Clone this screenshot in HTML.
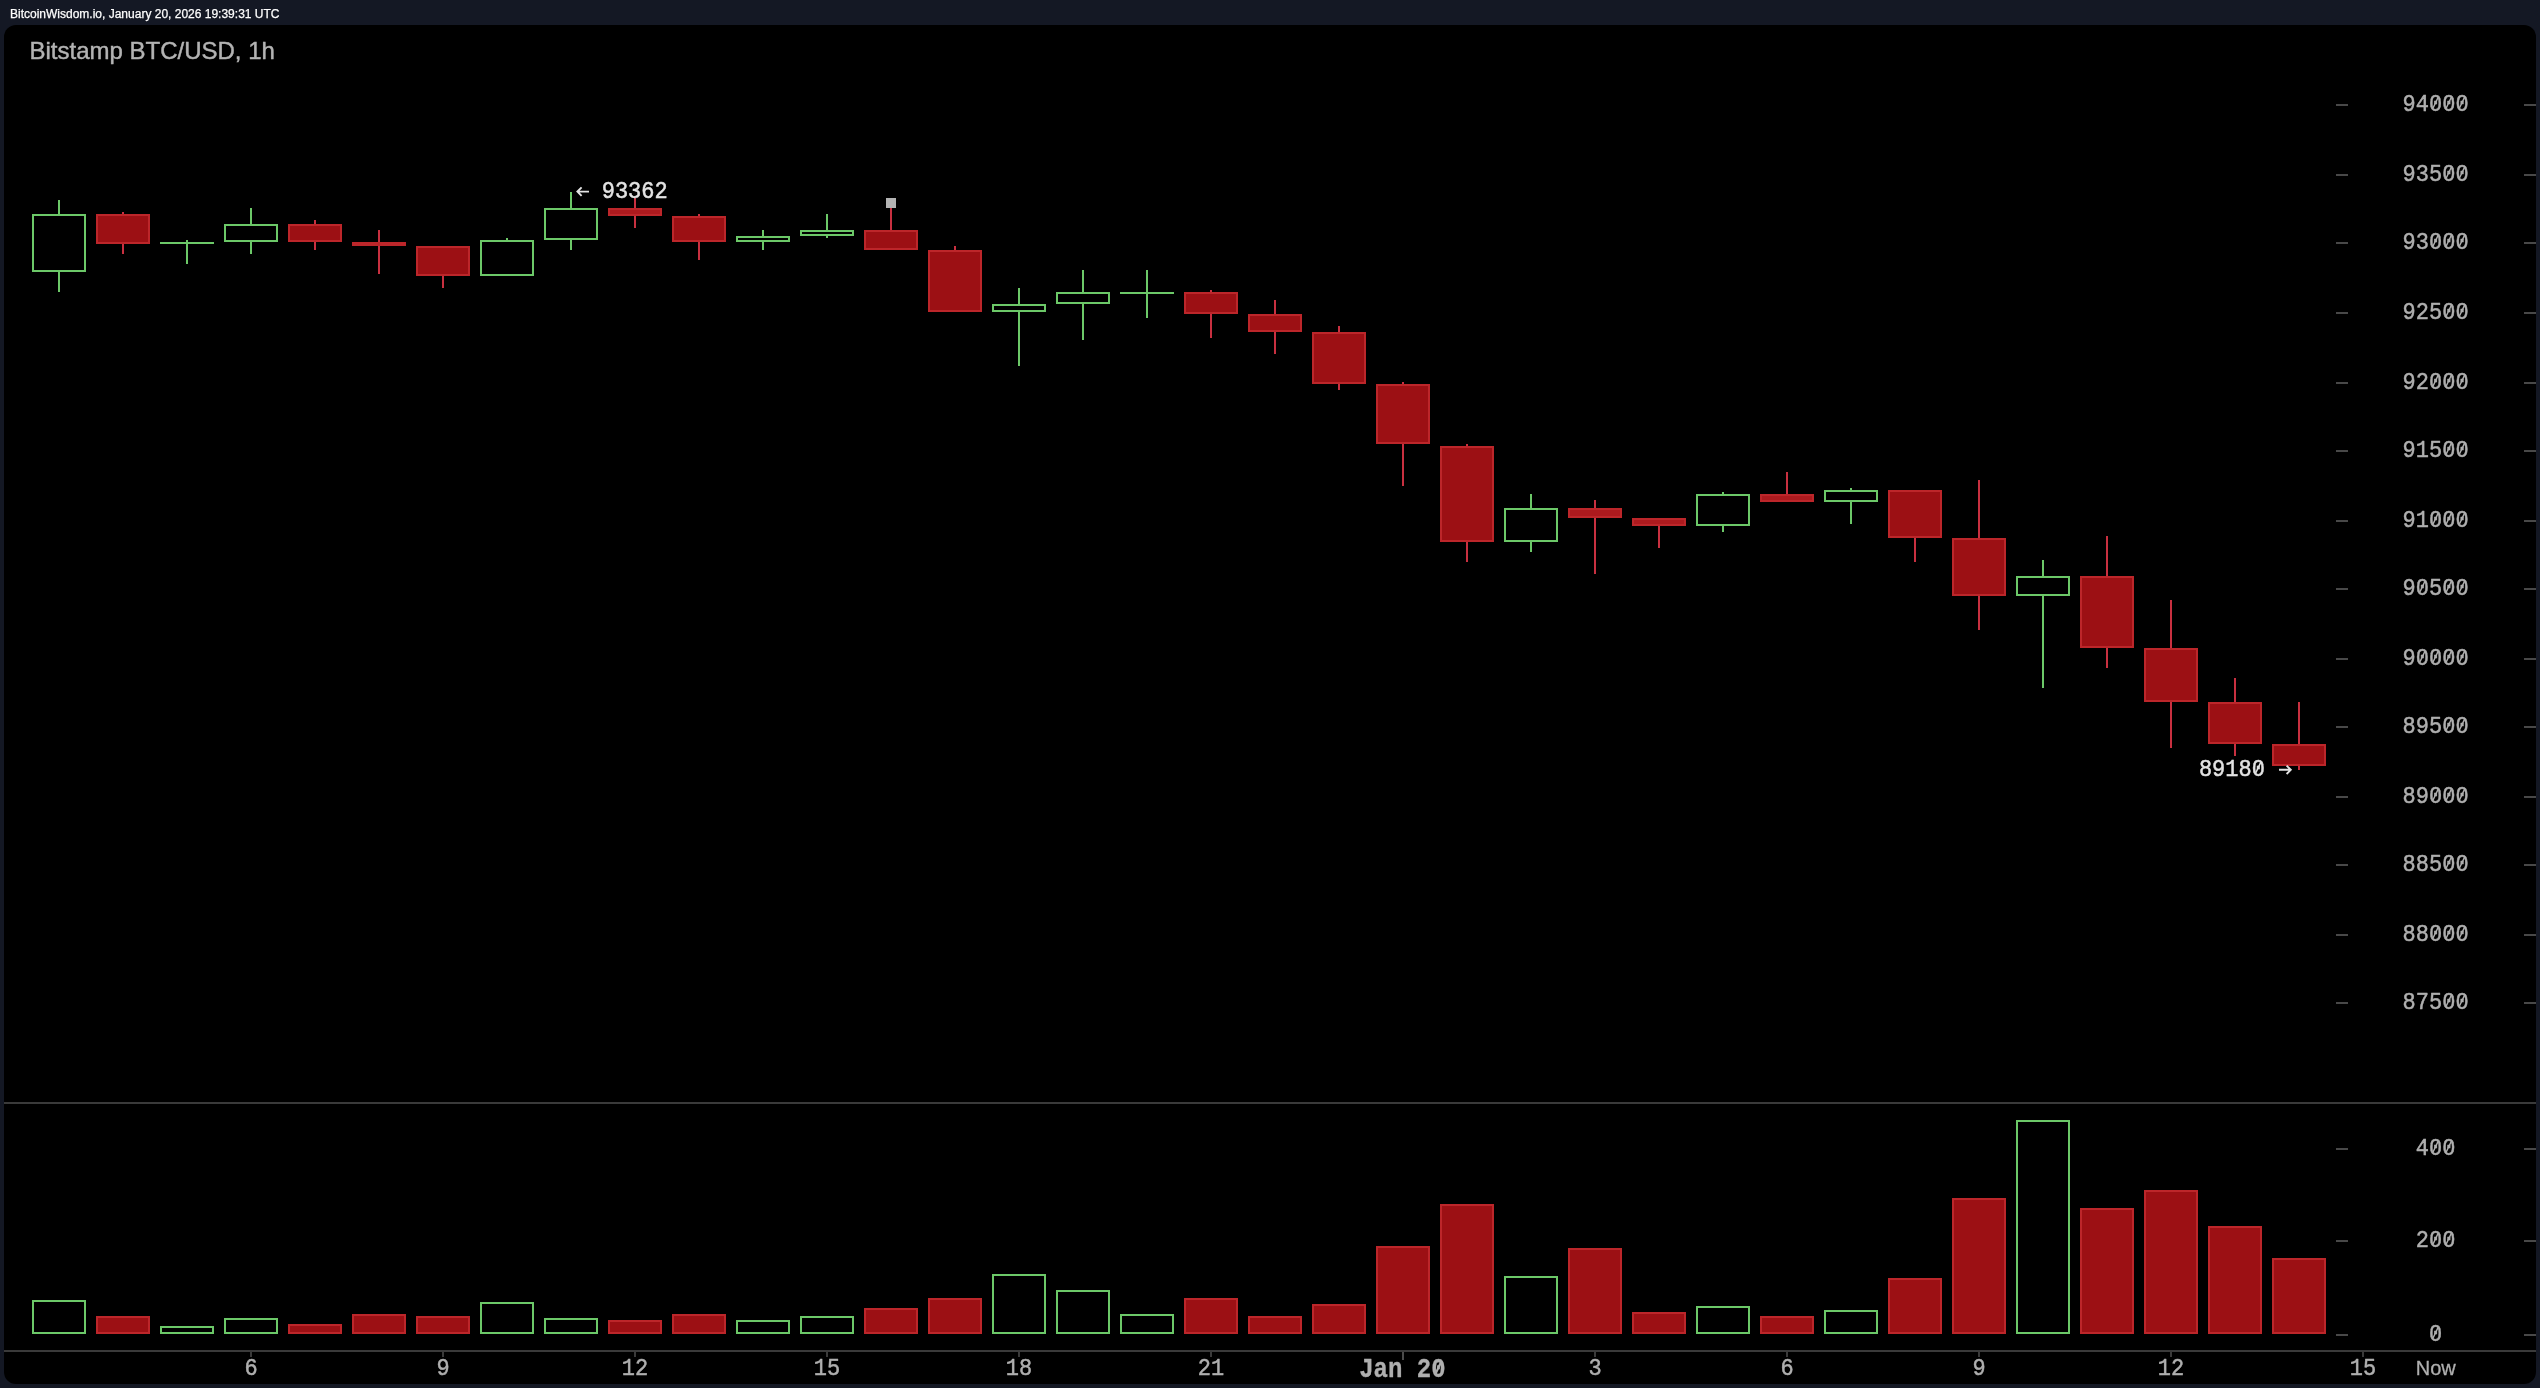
<!DOCTYPE html>
<html><head><meta charset="utf-8"><title>Bitstamp BTC/USD, 1h</title>
<style>
html,body{margin:0;padding:0;background:#141824;}
body{width:2540px;height:1388px;overflow:hidden;font-family:"Liberation Sans",sans-serif;}
svg{display:block;}
.t{opacity:0.999;}
</style></head><body>
<svg width="2540" height="1388" viewBox="0 0 2540 1388">
<rect x="0" y="0" width="2540" height="1388" fill="#141824"/>
<rect x="4" y="25" width="2532" height="1359" rx="12" ry="12" fill="#000" shape-rendering="geometricPrecision"/>
<g shape-rendering="crispEdges">
<rect x="4" y="1102" width="2532" height="2" fill="#3a3a3a"/>
<rect x="4" y="1350" width="2532" height="2" fill="#3a3a3a"/>
<rect x="2336" y="104" width="12" height="2" fill="#484848"/>
<rect x="2524" y="104" width="12" height="2" fill="#484848"/>
<rect x="2336" y="174" width="12" height="2" fill="#484848"/>
<rect x="2524" y="174" width="12" height="2" fill="#484848"/>
<rect x="2336" y="242" width="12" height="2" fill="#484848"/>
<rect x="2524" y="242" width="12" height="2" fill="#484848"/>
<rect x="2336" y="312" width="12" height="2" fill="#484848"/>
<rect x="2524" y="312" width="12" height="2" fill="#484848"/>
<rect x="2336" y="382" width="12" height="2" fill="#484848"/>
<rect x="2524" y="382" width="12" height="2" fill="#484848"/>
<rect x="2336" y="450" width="12" height="2" fill="#484848"/>
<rect x="2524" y="450" width="12" height="2" fill="#484848"/>
<rect x="2336" y="520" width="12" height="2" fill="#484848"/>
<rect x="2524" y="520" width="12" height="2" fill="#484848"/>
<rect x="2336" y="588" width="12" height="2" fill="#484848"/>
<rect x="2524" y="588" width="12" height="2" fill="#484848"/>
<rect x="2336" y="658" width="12" height="2" fill="#484848"/>
<rect x="2524" y="658" width="12" height="2" fill="#484848"/>
<rect x="2336" y="726" width="12" height="2" fill="#484848"/>
<rect x="2524" y="726" width="12" height="2" fill="#484848"/>
<rect x="2336" y="796" width="12" height="2" fill="#484848"/>
<rect x="2524" y="796" width="12" height="2" fill="#484848"/>
<rect x="2336" y="864" width="12" height="2" fill="#484848"/>
<rect x="2524" y="864" width="12" height="2" fill="#484848"/>
<rect x="2336" y="934" width="12" height="2" fill="#484848"/>
<rect x="2524" y="934" width="12" height="2" fill="#484848"/>
<rect x="2336" y="1002" width="12" height="2" fill="#484848"/>
<rect x="2524" y="1002" width="12" height="2" fill="#484848"/>
<rect x="2336" y="1148" width="12" height="2" fill="#484848"/>
<rect x="2524" y="1148" width="12" height="2" fill="#484848"/>
<rect x="2336" y="1240" width="12" height="2" fill="#484848"/>
<rect x="2524" y="1240" width="12" height="2" fill="#484848"/>
<rect x="2336" y="1334" width="12" height="2" fill="#484848"/>
<rect x="2524" y="1334" width="12" height="2" fill="#484848"/>
<rect x="250" y="1352" width="2" height="5" fill="#3a3a3a"/>
<rect x="442" y="1352" width="2" height="5" fill="#3a3a3a"/>
<rect x="634" y="1352" width="2" height="5" fill="#3a3a3a"/>
<rect x="826" y="1352" width="2" height="5" fill="#3a3a3a"/>
<rect x="1018" y="1352" width="2" height="5" fill="#3a3a3a"/>
<rect x="1210" y="1352" width="2" height="5" fill="#3a3a3a"/>
<rect x="1594" y="1352" width="2" height="5" fill="#3a3a3a"/>
<rect x="1786" y="1352" width="2" height="5" fill="#3a3a3a"/>
<rect x="1978" y="1352" width="2" height="5" fill="#3a3a3a"/>
<rect x="2170" y="1352" width="2" height="5" fill="#3a3a3a"/>
<rect x="2362" y="1352" width="2" height="5" fill="#3a3a3a"/>
<rect x="1402" y="1352" width="2" height="8" fill="#4b4b4b"/>
<rect x="58" y="200" width="2" height="92" fill="#6cc868"/>
<rect x="32" y="214" width="54" height="58" fill="#6cc868"/>
<rect x="34" y="216" width="50" height="54" fill="#000"/>
<rect x="122" y="212" width="2" height="42" fill="#c83040"/>
<rect x="96" y="214" width="54" height="30" fill="#bc262a"/>
<rect x="98" y="216" width="50" height="26" fill="#9c1014"/>
<rect x="186" y="240" width="2" height="24" fill="#6cc868"/>
<rect x="160" y="242" width="54" height="2" fill="#6cc868"/>
<rect x="250" y="208" width="2" height="46" fill="#6cc868"/>
<rect x="224" y="224" width="54" height="18" fill="#6cc868"/>
<rect x="226" y="226" width="50" height="14" fill="#000"/>
<rect x="314" y="220" width="2" height="30" fill="#c83040"/>
<rect x="288" y="224" width="54" height="18" fill="#bc262a"/>
<rect x="290" y="226" width="50" height="14" fill="#9c1014"/>
<rect x="378" y="230" width="2" height="44" fill="#c83040"/>
<rect x="352" y="242" width="54" height="4" fill="#bc262a"/>
<rect x="442" y="246" width="2" height="42" fill="#c83040"/>
<rect x="416" y="246" width="54" height="30" fill="#bc262a"/>
<rect x="418" y="248" width="50" height="26" fill="#9c1014"/>
<rect x="506" y="238" width="2" height="38" fill="#6cc868"/>
<rect x="480" y="240" width="54" height="36" fill="#6cc868"/>
<rect x="482" y="242" width="50" height="32" fill="#000"/>
<rect x="570" y="192" width="2" height="58" fill="#6cc868"/>
<rect x="544" y="208" width="54" height="32" fill="#6cc868"/>
<rect x="546" y="210" width="50" height="28" fill="#000"/>
<rect x="634" y="198" width="2" height="30" fill="#c83040"/>
<rect x="608" y="208" width="54" height="8" fill="#bc262a"/>
<rect x="610" y="210" width="50" height="4" fill="#ac1a1e"/>
<rect x="698" y="214" width="2" height="46" fill="#c83040"/>
<rect x="672" y="216" width="54" height="26" fill="#bc262a"/>
<rect x="674" y="218" width="50" height="22" fill="#9c1014"/>
<rect x="762" y="230" width="2" height="20" fill="#6cc868"/>
<rect x="736" y="236" width="54" height="6" fill="#6cc868"/>
<rect x="738" y="238" width="50" height="2" fill="#000"/>
<rect x="826" y="214" width="2" height="24" fill="#6cc868"/>
<rect x="800" y="230" width="54" height="6" fill="#6cc868"/>
<rect x="802" y="232" width="50" height="2" fill="#000"/>
<rect x="890" y="208" width="2" height="42" fill="#c83040"/>
<rect x="864" y="230" width="54" height="20" fill="#bc262a"/>
<rect x="866" y="232" width="50" height="16" fill="#9c1014"/>
<rect x="954" y="246" width="2" height="66" fill="#c83040"/>
<rect x="928" y="250" width="54" height="62" fill="#bc262a"/>
<rect x="930" y="252" width="50" height="58" fill="#9c1014"/>
<rect x="1018" y="288" width="2" height="78" fill="#6cc868"/>
<rect x="992" y="304" width="54" height="8" fill="#6cc868"/>
<rect x="994" y="306" width="50" height="4" fill="#000"/>
<rect x="1082" y="270" width="2" height="70" fill="#6cc868"/>
<rect x="1056" y="292" width="54" height="12" fill="#6cc868"/>
<rect x="1058" y="294" width="50" height="8" fill="#000"/>
<rect x="1146" y="270" width="2" height="48" fill="#6cc868"/>
<rect x="1120" y="292" width="54" height="2" fill="#6cc868"/>
<rect x="1210" y="290" width="2" height="48" fill="#c83040"/>
<rect x="1184" y="292" width="54" height="22" fill="#bc262a"/>
<rect x="1186" y="294" width="50" height="18" fill="#9c1014"/>
<rect x="1274" y="300" width="2" height="54" fill="#c83040"/>
<rect x="1248" y="314" width="54" height="18" fill="#bc262a"/>
<rect x="1250" y="316" width="50" height="14" fill="#9c1014"/>
<rect x="1338" y="326" width="2" height="64" fill="#c83040"/>
<rect x="1312" y="332" width="54" height="52" fill="#bc262a"/>
<rect x="1314" y="334" width="50" height="48" fill="#9c1014"/>
<rect x="1402" y="382" width="2" height="104" fill="#c83040"/>
<rect x="1376" y="384" width="54" height="60" fill="#bc262a"/>
<rect x="1378" y="386" width="50" height="56" fill="#9c1014"/>
<rect x="1466" y="444" width="2" height="118" fill="#c83040"/>
<rect x="1440" y="446" width="54" height="96" fill="#bc262a"/>
<rect x="1442" y="448" width="50" height="92" fill="#9c1014"/>
<rect x="1530" y="494" width="2" height="58" fill="#6cc868"/>
<rect x="1504" y="508" width="54" height="34" fill="#6cc868"/>
<rect x="1506" y="510" width="50" height="30" fill="#000"/>
<rect x="1594" y="500" width="2" height="74" fill="#c83040"/>
<rect x="1568" y="508" width="54" height="10" fill="#bc262a"/>
<rect x="1570" y="510" width="50" height="6" fill="#ac1a1e"/>
<rect x="1658" y="518" width="2" height="30" fill="#c83040"/>
<rect x="1632" y="518" width="54" height="8" fill="#bc262a"/>
<rect x="1634" y="520" width="50" height="4" fill="#ac1a1e"/>
<rect x="1722" y="492" width="2" height="40" fill="#6cc868"/>
<rect x="1696" y="494" width="54" height="32" fill="#6cc868"/>
<rect x="1698" y="496" width="50" height="28" fill="#000"/>
<rect x="1786" y="472" width="2" height="30" fill="#c83040"/>
<rect x="1760" y="494" width="54" height="8" fill="#bc262a"/>
<rect x="1762" y="496" width="50" height="4" fill="#ac1a1e"/>
<rect x="1850" y="488" width="2" height="36" fill="#6cc868"/>
<rect x="1824" y="490" width="54" height="12" fill="#6cc868"/>
<rect x="1826" y="492" width="50" height="8" fill="#000"/>
<rect x="1914" y="490" width="2" height="72" fill="#c83040"/>
<rect x="1888" y="490" width="54" height="48" fill="#bc262a"/>
<rect x="1890" y="492" width="50" height="44" fill="#9c1014"/>
<rect x="1978" y="480" width="2" height="150" fill="#c83040"/>
<rect x="1952" y="538" width="54" height="58" fill="#bc262a"/>
<rect x="1954" y="540" width="50" height="54" fill="#9c1014"/>
<rect x="2042" y="560" width="2" height="128" fill="#6cc868"/>
<rect x="2016" y="576" width="54" height="20" fill="#6cc868"/>
<rect x="2018" y="578" width="50" height="16" fill="#000"/>
<rect x="2106" y="536" width="2" height="132" fill="#c83040"/>
<rect x="2080" y="576" width="54" height="72" fill="#bc262a"/>
<rect x="2082" y="578" width="50" height="68" fill="#9c1014"/>
<rect x="2170" y="600" width="2" height="148" fill="#c83040"/>
<rect x="2144" y="648" width="54" height="54" fill="#bc262a"/>
<rect x="2146" y="650" width="50" height="50" fill="#9c1014"/>
<rect x="2234" y="678" width="2" height="78" fill="#c83040"/>
<rect x="2208" y="702" width="54" height="42" fill="#bc262a"/>
<rect x="2210" y="704" width="50" height="38" fill="#9c1014"/>
<rect x="2298" y="702" width="2" height="68" fill="#c83040"/>
<rect x="2272" y="744" width="54" height="22" fill="#bc262a"/>
<rect x="2274" y="746" width="50" height="18" fill="#9c1014"/>
<rect x="886" y="198" width="10" height="10" fill="#b4b4b4"/>
<rect x="32" y="1300" width="54" height="34" fill="#6cc868"/>
<rect x="34" y="1302" width="50" height="30" fill="#000"/>
<rect x="96" y="1316" width="54" height="18" fill="#bc262a"/>
<rect x="98" y="1318" width="50" height="14" fill="#9c1014"/>
<rect x="160" y="1326" width="54" height="8" fill="#6cc868"/>
<rect x="162" y="1328" width="50" height="4" fill="#000"/>
<rect x="224" y="1318" width="54" height="16" fill="#6cc868"/>
<rect x="226" y="1320" width="50" height="12" fill="#000"/>
<rect x="288" y="1324" width="54" height="10" fill="#bc262a"/>
<rect x="290" y="1326" width="50" height="6" fill="#9c1014"/>
<rect x="352" y="1314" width="54" height="20" fill="#bc262a"/>
<rect x="354" y="1316" width="50" height="16" fill="#9c1014"/>
<rect x="416" y="1316" width="54" height="18" fill="#bc262a"/>
<rect x="418" y="1318" width="50" height="14" fill="#9c1014"/>
<rect x="480" y="1302" width="54" height="32" fill="#6cc868"/>
<rect x="482" y="1304" width="50" height="28" fill="#000"/>
<rect x="544" y="1318" width="54" height="16" fill="#6cc868"/>
<rect x="546" y="1320" width="50" height="12" fill="#000"/>
<rect x="608" y="1320" width="54" height="14" fill="#bc262a"/>
<rect x="610" y="1322" width="50" height="10" fill="#9c1014"/>
<rect x="672" y="1314" width="54" height="20" fill="#bc262a"/>
<rect x="674" y="1316" width="50" height="16" fill="#9c1014"/>
<rect x="736" y="1320" width="54" height="14" fill="#6cc868"/>
<rect x="738" y="1322" width="50" height="10" fill="#000"/>
<rect x="800" y="1316" width="54" height="18" fill="#6cc868"/>
<rect x="802" y="1318" width="50" height="14" fill="#000"/>
<rect x="864" y="1308" width="54" height="26" fill="#bc262a"/>
<rect x="866" y="1310" width="50" height="22" fill="#9c1014"/>
<rect x="928" y="1298" width="54" height="36" fill="#bc262a"/>
<rect x="930" y="1300" width="50" height="32" fill="#9c1014"/>
<rect x="992" y="1274" width="54" height="60" fill="#6cc868"/>
<rect x="994" y="1276" width="50" height="56" fill="#000"/>
<rect x="1056" y="1290" width="54" height="44" fill="#6cc868"/>
<rect x="1058" y="1292" width="50" height="40" fill="#000"/>
<rect x="1120" y="1314" width="54" height="20" fill="#6cc868"/>
<rect x="1122" y="1316" width="50" height="16" fill="#000"/>
<rect x="1184" y="1298" width="54" height="36" fill="#bc262a"/>
<rect x="1186" y="1300" width="50" height="32" fill="#9c1014"/>
<rect x="1248" y="1316" width="54" height="18" fill="#bc262a"/>
<rect x="1250" y="1318" width="50" height="14" fill="#9c1014"/>
<rect x="1312" y="1304" width="54" height="30" fill="#bc262a"/>
<rect x="1314" y="1306" width="50" height="26" fill="#9c1014"/>
<rect x="1376" y="1246" width="54" height="88" fill="#bc262a"/>
<rect x="1378" y="1248" width="50" height="84" fill="#9c1014"/>
<rect x="1440" y="1204" width="54" height="130" fill="#bc262a"/>
<rect x="1442" y="1206" width="50" height="126" fill="#9c1014"/>
<rect x="1504" y="1276" width="54" height="58" fill="#6cc868"/>
<rect x="1506" y="1278" width="50" height="54" fill="#000"/>
<rect x="1568" y="1248" width="54" height="86" fill="#bc262a"/>
<rect x="1570" y="1250" width="50" height="82" fill="#9c1014"/>
<rect x="1632" y="1312" width="54" height="22" fill="#bc262a"/>
<rect x="1634" y="1314" width="50" height="18" fill="#9c1014"/>
<rect x="1696" y="1306" width="54" height="28" fill="#6cc868"/>
<rect x="1698" y="1308" width="50" height="24" fill="#000"/>
<rect x="1760" y="1316" width="54" height="18" fill="#bc262a"/>
<rect x="1762" y="1318" width="50" height="14" fill="#9c1014"/>
<rect x="1824" y="1310" width="54" height="24" fill="#6cc868"/>
<rect x="1826" y="1312" width="50" height="20" fill="#000"/>
<rect x="1888" y="1278" width="54" height="56" fill="#bc262a"/>
<rect x="1890" y="1280" width="50" height="52" fill="#9c1014"/>
<rect x="1952" y="1198" width="54" height="136" fill="#bc262a"/>
<rect x="1954" y="1200" width="50" height="132" fill="#9c1014"/>
<rect x="2016" y="1120" width="54" height="214" fill="#6cc868"/>
<rect x="2018" y="1122" width="50" height="210" fill="#000"/>
<rect x="2080" y="1208" width="54" height="126" fill="#bc262a"/>
<rect x="2082" y="1210" width="50" height="122" fill="#9c1014"/>
<rect x="2144" y="1190" width="54" height="144" fill="#bc262a"/>
<rect x="2146" y="1192" width="50" height="140" fill="#9c1014"/>
<rect x="2208" y="1226" width="54" height="108" fill="#bc262a"/>
<rect x="2210" y="1228" width="50" height="104" fill="#9c1014"/>
<rect x="2272" y="1258" width="54" height="76" fill="#bc262a"/>
<rect x="2274" y="1260" width="50" height="72" fill="#9c1014"/>
</g>
<g class="t">
<text transform="translate(2435.6,110.7) scale(1,1.12)" text-anchor="middle" font-family="'Liberation Mono', monospace" font-size="22" fill="#b0b0b0" stroke="#b0b0b0" stroke-width="0.45" stroke-linejoin="round" xml:space="preserve">94000</text>
<text transform="translate(2435.6,180.7) scale(1,1.12)" text-anchor="middle" font-family="'Liberation Mono', monospace" font-size="22" fill="#b0b0b0" stroke="#b0b0b0" stroke-width="0.45" stroke-linejoin="round" xml:space="preserve">93500</text>
<text transform="translate(2435.6,248.7) scale(1,1.12)" text-anchor="middle" font-family="'Liberation Mono', monospace" font-size="22" fill="#b0b0b0" stroke="#b0b0b0" stroke-width="0.45" stroke-linejoin="round" xml:space="preserve">93000</text>
<text transform="translate(2435.6,318.7) scale(1,1.12)" text-anchor="middle" font-family="'Liberation Mono', monospace" font-size="22" fill="#b0b0b0" stroke="#b0b0b0" stroke-width="0.45" stroke-linejoin="round" xml:space="preserve">92500</text>
<text transform="translate(2435.6,388.7) scale(1,1.12)" text-anchor="middle" font-family="'Liberation Mono', monospace" font-size="22" fill="#b0b0b0" stroke="#b0b0b0" stroke-width="0.45" stroke-linejoin="round" xml:space="preserve">92000</text>
<text transform="translate(2435.6,456.7) scale(1,1.12)" text-anchor="middle" font-family="'Liberation Mono', monospace" font-size="22" fill="#b0b0b0" stroke="#b0b0b0" stroke-width="0.45" stroke-linejoin="round" xml:space="preserve">91500</text>
<text transform="translate(2435.6,526.7) scale(1,1.12)" text-anchor="middle" font-family="'Liberation Mono', monospace" font-size="22" fill="#b0b0b0" stroke="#b0b0b0" stroke-width="0.45" stroke-linejoin="round" xml:space="preserve">91000</text>
<text transform="translate(2435.6,594.7) scale(1,1.12)" text-anchor="middle" font-family="'Liberation Mono', monospace" font-size="22" fill="#b0b0b0" stroke="#b0b0b0" stroke-width="0.45" stroke-linejoin="round" xml:space="preserve">90500</text>
<text transform="translate(2435.6,664.7) scale(1,1.12)" text-anchor="middle" font-family="'Liberation Mono', monospace" font-size="22" fill="#b0b0b0" stroke="#b0b0b0" stroke-width="0.45" stroke-linejoin="round" xml:space="preserve">90000</text>
<text transform="translate(2435.6,732.7) scale(1,1.12)" text-anchor="middle" font-family="'Liberation Mono', monospace" font-size="22" fill="#b0b0b0" stroke="#b0b0b0" stroke-width="0.45" stroke-linejoin="round" xml:space="preserve">89500</text>
<text transform="translate(2435.6,802.7) scale(1,1.12)" text-anchor="middle" font-family="'Liberation Mono', monospace" font-size="22" fill="#b0b0b0" stroke="#b0b0b0" stroke-width="0.45" stroke-linejoin="round" xml:space="preserve">89000</text>
<text transform="translate(2435.6,870.7) scale(1,1.12)" text-anchor="middle" font-family="'Liberation Mono', monospace" font-size="22" fill="#b0b0b0" stroke="#b0b0b0" stroke-width="0.45" stroke-linejoin="round" xml:space="preserve">88500</text>
<text transform="translate(2435.6,940.7) scale(1,1.12)" text-anchor="middle" font-family="'Liberation Mono', monospace" font-size="22" fill="#b0b0b0" stroke="#b0b0b0" stroke-width="0.45" stroke-linejoin="round" xml:space="preserve">88000</text>
<text transform="translate(2435.6,1008.7) scale(1,1.12)" text-anchor="middle" font-family="'Liberation Mono', monospace" font-size="22" fill="#b0b0b0" stroke="#b0b0b0" stroke-width="0.45" stroke-linejoin="round" xml:space="preserve">87500</text>
<text transform="translate(2435.6,1154.7) scale(1,1.12)" text-anchor="middle" font-family="'Liberation Mono', monospace" font-size="22" fill="#b0b0b0" stroke="#b0b0b0" stroke-width="0.45" stroke-linejoin="round" xml:space="preserve">400</text>
<text transform="translate(2435.6,1246.7) scale(1,1.12)" text-anchor="middle" font-family="'Liberation Mono', monospace" font-size="22" fill="#b0b0b0" stroke="#b0b0b0" stroke-width="0.45" stroke-linejoin="round" xml:space="preserve">200</text>
<text transform="translate(2435.6,1340.7) scale(1,1.12)" text-anchor="middle" font-family="'Liberation Mono', monospace" font-size="22" fill="#b0b0b0" stroke="#b0b0b0" stroke-width="0.45" stroke-linejoin="round" xml:space="preserve">0</text>
<text transform="translate(251,1375.2) scale(1,1.12)" text-anchor="middle" font-family="'Liberation Mono', monospace" font-size="22" fill="#b0b0b0" stroke="#b0b0b0" stroke-width="0.45" stroke-linejoin="round" xml:space="preserve">6</text>
<text transform="translate(443,1375.2) scale(1,1.12)" text-anchor="middle" font-family="'Liberation Mono', monospace" font-size="22" fill="#b0b0b0" stroke="#b0b0b0" stroke-width="0.45" stroke-linejoin="round" xml:space="preserve">9</text>
<text transform="translate(635,1375.2) scale(1,1.12)" text-anchor="middle" font-family="'Liberation Mono', monospace" font-size="22" fill="#b0b0b0" stroke="#b0b0b0" stroke-width="0.45" stroke-linejoin="round" xml:space="preserve">12</text>
<text transform="translate(827,1375.2) scale(1,1.12)" text-anchor="middle" font-family="'Liberation Mono', monospace" font-size="22" fill="#b0b0b0" stroke="#b0b0b0" stroke-width="0.45" stroke-linejoin="round" xml:space="preserve">15</text>
<text transform="translate(1019,1375.2) scale(1,1.12)" text-anchor="middle" font-family="'Liberation Mono', monospace" font-size="22" fill="#b0b0b0" stroke="#b0b0b0" stroke-width="0.45" stroke-linejoin="round" xml:space="preserve">18</text>
<text transform="translate(1211,1375.2) scale(1,1.12)" text-anchor="middle" font-family="'Liberation Mono', monospace" font-size="22" fill="#b0b0b0" stroke="#b0b0b0" stroke-width="0.45" stroke-linejoin="round" xml:space="preserve">21</text>
<text transform="translate(1595,1375.2) scale(1,1.12)" text-anchor="middle" font-family="'Liberation Mono', monospace" font-size="22" fill="#b0b0b0" stroke="#b0b0b0" stroke-width="0.45" stroke-linejoin="round" xml:space="preserve">3</text>
<text transform="translate(1787,1375.2) scale(1,1.12)" text-anchor="middle" font-family="'Liberation Mono', monospace" font-size="22" fill="#b0b0b0" stroke="#b0b0b0" stroke-width="0.45" stroke-linejoin="round" xml:space="preserve">6</text>
<text transform="translate(1979,1375.2) scale(1,1.12)" text-anchor="middle" font-family="'Liberation Mono', monospace" font-size="22" fill="#b0b0b0" stroke="#b0b0b0" stroke-width="0.45" stroke-linejoin="round" xml:space="preserve">9</text>
<text transform="translate(2171,1375.2) scale(1,1.12)" text-anchor="middle" font-family="'Liberation Mono', monospace" font-size="22" fill="#b0b0b0" stroke="#b0b0b0" stroke-width="0.45" stroke-linejoin="round" xml:space="preserve">12</text>
<text transform="translate(2363,1375.2) scale(1,1.12)" text-anchor="middle" font-family="'Liberation Mono', monospace" font-size="22" fill="#b0b0b0" stroke="#b0b0b0" stroke-width="0.45" stroke-linejoin="round" xml:space="preserve">15</text>
<text transform="translate(1402.4,1376.8) scale(1,1.15)" text-anchor="middle" font-family="'Liberation Mono', monospace" font-size="24" font-weight="bold" fill="#b0b0b0" stroke="#b0b0b0" stroke-width="0.3" stroke-linejoin="round" xml:space="preserve">Jan 20</text>
<text x="2435.7" y="1375" text-anchor="middle" font-family="'Liberation Sans', sans-serif" font-size="20" fill="#b0b0b0" stroke="#b0b0b0" stroke-width="0.3">Now</text>
<text x="10" y="18" text-anchor="start" font-family="'Liberation Sans', sans-serif" font-size="12" fill="#ffffff" stroke="#ffffff" stroke-width="0.25">BitcoinWisdom.io, January 20, 2026 19:39:31 UTC</text>
<text x="29.5" y="59.4" text-anchor="start" font-family="'Liberation Sans', sans-serif" font-size="24" fill="#b4b4b4" stroke="#b4b4b4" stroke-width="0.45">Bitstamp BTC/USD, 1h</text>
<text transform="translate(601.7,197.5) scale(1,1.12)" text-anchor="start" font-family="'Liberation Mono', monospace" font-size="22" fill="#e4e4e4" stroke="#e4e4e4" stroke-width="0.45" stroke-linejoin="round" xml:space="preserve">93362</text>
<text transform="translate(2264.9,775.6) scale(1,1.12)" text-anchor="end" font-family="'Liberation Mono', monospace" font-size="22" fill="#e4e4e4" stroke="#e4e4e4" stroke-width="0.45" stroke-linejoin="round" xml:space="preserve">89180</text>
<line x1="2433.29" y1="107.45" x2="2437.91" y2="97.71" stroke="#b0b0b0" stroke-width="1.5" stroke-linecap="round"/>
<line x1="2446.49" y1="107.45" x2="2451.11" y2="97.71" stroke="#b0b0b0" stroke-width="1.5" stroke-linecap="round"/>
<line x1="2459.69" y1="107.45" x2="2464.31" y2="97.71" stroke="#b0b0b0" stroke-width="1.5" stroke-linecap="round"/>
<line x1="2446.49" y1="177.45" x2="2451.11" y2="167.71" stroke="#b0b0b0" stroke-width="1.5" stroke-linecap="round"/>
<line x1="2459.69" y1="177.45" x2="2464.31" y2="167.71" stroke="#b0b0b0" stroke-width="1.5" stroke-linecap="round"/>
<line x1="2433.29" y1="245.45" x2="2437.91" y2="235.71" stroke="#b0b0b0" stroke-width="1.5" stroke-linecap="round"/>
<line x1="2446.49" y1="245.45" x2="2451.11" y2="235.71" stroke="#b0b0b0" stroke-width="1.5" stroke-linecap="round"/>
<line x1="2459.69" y1="245.45" x2="2464.31" y2="235.71" stroke="#b0b0b0" stroke-width="1.5" stroke-linecap="round"/>
<line x1="2446.49" y1="315.45" x2="2451.11" y2="305.71" stroke="#b0b0b0" stroke-width="1.5" stroke-linecap="round"/>
<line x1="2459.69" y1="315.45" x2="2464.31" y2="305.71" stroke="#b0b0b0" stroke-width="1.5" stroke-linecap="round"/>
<line x1="2433.29" y1="385.45" x2="2437.91" y2="375.71" stroke="#b0b0b0" stroke-width="1.5" stroke-linecap="round"/>
<line x1="2446.49" y1="385.45" x2="2451.11" y2="375.71" stroke="#b0b0b0" stroke-width="1.5" stroke-linecap="round"/>
<line x1="2459.69" y1="385.45" x2="2464.31" y2="375.71" stroke="#b0b0b0" stroke-width="1.5" stroke-linecap="round"/>
<line x1="2446.49" y1="453.45" x2="2451.11" y2="443.71" stroke="#b0b0b0" stroke-width="1.5" stroke-linecap="round"/>
<line x1="2459.69" y1="453.45" x2="2464.31" y2="443.71" stroke="#b0b0b0" stroke-width="1.5" stroke-linecap="round"/>
<line x1="2433.29" y1="523.45" x2="2437.91" y2="513.71" stroke="#b0b0b0" stroke-width="1.5" stroke-linecap="round"/>
<line x1="2446.49" y1="523.45" x2="2451.11" y2="513.71" stroke="#b0b0b0" stroke-width="1.5" stroke-linecap="round"/>
<line x1="2459.69" y1="523.45" x2="2464.31" y2="513.71" stroke="#b0b0b0" stroke-width="1.5" stroke-linecap="round"/>
<line x1="2420.09" y1="591.45" x2="2424.71" y2="581.71" stroke="#b0b0b0" stroke-width="1.5" stroke-linecap="round"/>
<line x1="2446.49" y1="591.45" x2="2451.11" y2="581.71" stroke="#b0b0b0" stroke-width="1.5" stroke-linecap="round"/>
<line x1="2459.69" y1="591.45" x2="2464.31" y2="581.71" stroke="#b0b0b0" stroke-width="1.5" stroke-linecap="round"/>
<line x1="2420.09" y1="661.45" x2="2424.71" y2="651.71" stroke="#b0b0b0" stroke-width="1.5" stroke-linecap="round"/>
<line x1="2433.29" y1="661.45" x2="2437.91" y2="651.71" stroke="#b0b0b0" stroke-width="1.5" stroke-linecap="round"/>
<line x1="2446.49" y1="661.45" x2="2451.11" y2="651.71" stroke="#b0b0b0" stroke-width="1.5" stroke-linecap="round"/>
<line x1="2459.69" y1="661.45" x2="2464.31" y2="651.71" stroke="#b0b0b0" stroke-width="1.5" stroke-linecap="round"/>
<line x1="2446.49" y1="729.45" x2="2451.11" y2="719.71" stroke="#b0b0b0" stroke-width="1.5" stroke-linecap="round"/>
<line x1="2459.69" y1="729.45" x2="2464.31" y2="719.71" stroke="#b0b0b0" stroke-width="1.5" stroke-linecap="round"/>
<line x1="2433.29" y1="799.45" x2="2437.91" y2="789.71" stroke="#b0b0b0" stroke-width="1.5" stroke-linecap="round"/>
<line x1="2446.49" y1="799.45" x2="2451.11" y2="789.71" stroke="#b0b0b0" stroke-width="1.5" stroke-linecap="round"/>
<line x1="2459.69" y1="799.45" x2="2464.31" y2="789.71" stroke="#b0b0b0" stroke-width="1.5" stroke-linecap="round"/>
<line x1="2446.49" y1="867.45" x2="2451.11" y2="857.71" stroke="#b0b0b0" stroke-width="1.5" stroke-linecap="round"/>
<line x1="2459.69" y1="867.45" x2="2464.31" y2="857.71" stroke="#b0b0b0" stroke-width="1.5" stroke-linecap="round"/>
<line x1="2433.29" y1="937.45" x2="2437.91" y2="927.71" stroke="#b0b0b0" stroke-width="1.5" stroke-linecap="round"/>
<line x1="2446.49" y1="937.45" x2="2451.11" y2="927.71" stroke="#b0b0b0" stroke-width="1.5" stroke-linecap="round"/>
<line x1="2459.69" y1="937.45" x2="2464.31" y2="927.71" stroke="#b0b0b0" stroke-width="1.5" stroke-linecap="round"/>
<line x1="2446.49" y1="1005.45" x2="2451.11" y2="995.71" stroke="#b0b0b0" stroke-width="1.5" stroke-linecap="round"/>
<line x1="2459.69" y1="1005.45" x2="2464.31" y2="995.71" stroke="#b0b0b0" stroke-width="1.5" stroke-linecap="round"/>
<line x1="2433.29" y1="1151.45" x2="2437.91" y2="1141.71" stroke="#b0b0b0" stroke-width="1.5" stroke-linecap="round"/>
<line x1="2446.49" y1="1151.45" x2="2451.11" y2="1141.71" stroke="#b0b0b0" stroke-width="1.5" stroke-linecap="round"/>
<line x1="2433.29" y1="1243.45" x2="2437.91" y2="1233.71" stroke="#b0b0b0" stroke-width="1.5" stroke-linecap="round"/>
<line x1="2446.49" y1="1243.45" x2="2451.11" y2="1233.71" stroke="#b0b0b0" stroke-width="1.5" stroke-linecap="round"/>
<line x1="2433.29" y1="1337.45" x2="2437.91" y2="1327.71" stroke="#b0b0b0" stroke-width="1.5" stroke-linecap="round"/>
<line x1="1435.89" y1="1373.16" x2="1440.93" y2="1362.25" stroke="#b0b0b0" stroke-width="2.2" stroke-linecap="round"/>
<line x1="2255.99" y1="772.35" x2="2260.61" y2="762.61" stroke="#e4e4e4" stroke-width="1.5" stroke-linecap="round"/>
<g fill="none" stroke="#e4e4e4" stroke-width="1.9" stroke-linecap="butt" stroke-linejoin="miter"><path d="M589,191.6 H577.6 M581.6,187.4 L577.4,191.6 L581.6,195.8"/><path d="M2279,769.8 H2290.6 M2286.6,765.6 L2290.8,769.8 L2286.6,774"/></g>
</g>
</svg>
</body></html>
